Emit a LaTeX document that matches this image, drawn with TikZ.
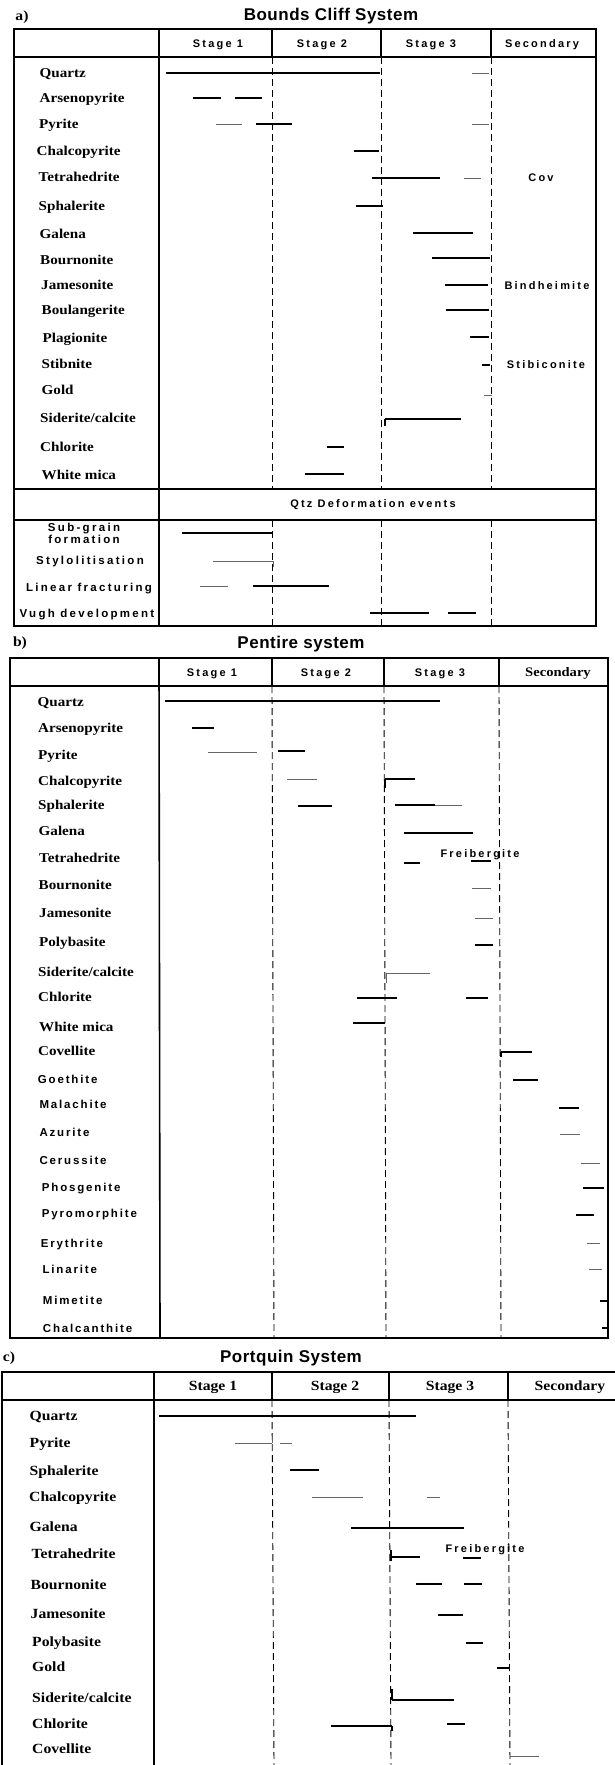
\documentclass[tikz,border=0pt]{standalone}
\usepackage{fontspec}
\newfontfamily\minrm[FakeStretch=1.12]{Liberation Serif Bold}
\newfontfamily\spacedsf[LetterSpace=20]{Liberation Sans Bold}
\newfontfamily\widesf[LetterSpace=16]{Liberation Sans Bold}
\newfontfamily\titlesf[LetterSpace=3]{Liberation Sans Bold}
\usetikzlibrary{positioning}

\begin{document}
\begin{tikzpicture}[x=1pt, y=-1pt,
  mineral/.style={anchor=west, inner sep=0pt, text height=9pt, text depth=0pt, font=\minrm\fontsize{13.5}{13.5}\selectfont},
  sansmineral/.style={anchor=west, inner sep=0pt, text height=8.5pt, text depth=0pt, font=\widesf\fontsize{11.5}{11.5}\selectfont},
  spacedlab/.style={inner sep=0pt, text height=8pt, text depth=0pt, font=\spacedsf\fontsize{11}{11}\selectfont},
  deformlab/.style={spacedlab, font=\spacedsf\fontsize{11.5}{11.5}\selectfont},
  serifhead/.style={inner sep=0pt, text height=9pt, text depth=0pt, font=\minrm\fontsize{14}{14}\selectfont},
  title/.style={inner sep=0pt, font=\titlesf\fontsize{17}{17}\selectfont},
  panel/.style={inner sep=0pt, font=\minrm\fontsize{14}{14}\selectfont},
  frame/.style={line width=1.6pt},
  divider/.style={line width=1.1pt},
  stagesep/.style={line width=0.9pt, dash pattern=on 7pt off 4pt},
  bar/.style={line width=1.1pt},
  heavybar/.style={line width=2.2pt},
  lightbar/.style={line width=0.8pt, black!60}]
\useasboundingbox (0,0) rectangle (615,1765);

% ---------------- a) Bounds Cliff System ----------------
\node[panel] (alabel) at (22,17) {a)};
\node[title] (atitle) at (331,16) {Bounds Cliff System};
\draw[frame] (14,29) rectangle (596,626);
\draw[frame] (14,57) -- (596,57);
\draw[frame] (14,489) -- (596,489);
\draw[frame] (14,520) -- (596,520);
\draw[frame] (159,29) -- (159,626);
\foreach \x in {272,381,491} {
  \draw[divider] (\x,29) -- (\x,57);
  \draw[stagesep] (\x,57) -- (\x,489);
  \draw[stagesep] (\x,520) -- (\x,626);
}
\node[spacedlab] (ahead1) at (218,43) {Stage 1};
\node[spacedlab] (ahead2) at (322,43) {Stage 2};
\node[spacedlab] (ahead3) at (431,43) {Stage 3};
\node[spacedlab] (ahead4) at (542,43) {Secondary};

\foreach \x/\y/\txt [count=\i] in {39.5/73/Quartz, 39.5/98/Arsenopyrite, 39/124/Pyrite,
    36.5/151/Chalcopyrite, 38.5/177/Tetrahedrite, 38.5/206/Sphalerite, 39.5/234/Galena,
    40/260/Bournonite, 41/285/Jamesonite, 41.5/310/Boulangerite, 42.5/338/Plagionite,
    41.5/364/Stibnite, 41.5/390/Gold, 40/418/{Siderite/calcite}, 40/447/Chlorite,
    41.5/475/White mica}
  \node[mineral] (a\i) at (\x,\y) {\txt};

\node[spacedlab] (acov) at (541,177) {Cov};
\node[spacedlab] (abind) at (547,285) {Bindheimite};
\node[spacedlab] (astib) at (546,364) {Stibiconite};

\node[spacedlab] (adeform) at (373,503) {Qtz Deformation events};
\node[deformlab, text height=7pt] (asub) at (84,528) {Sub-grain};
\node[deformlab, text height=7pt] (aform) at (84,539.5) {formation};
\node[deformlab] (astylo) at (90,560) {Stylolitisation};
\node[deformlab] (alinear) at (89,587) {Linear fracturing};
\node[deformlab] (avugh) at (87,613) {Vugh development};

% bars
\foreach \xa/\xb/\y in {166/380/73, 193/221/98, 235/262/98, 256/292/124,
    354/379/151, 356/383/206, 413/473/233, 470/489/337, 482/490/365,
    327/344/447, 305/344/474, 182/272/533, 253/329/586, 370/429/613, 448/476/613}
  \draw[bar] (\xa,\y) -- (\xb,\y);
\foreach \xa/\xb/\y in {372/440/178, 432/490/258, 445/488/285, 446/489/310, 385/461/419}
  \draw[heavybar] (\xa,\y) -- (\xb,\y);
\foreach \xa/\xb/\y in {472/489/73, 216/242/124, 472/489/124, 464/481/178,
    484/492/395, 213/273/561, 200/228/586}
  \draw[lightbar] (\xa,\y) -- (\xb,\y);
\draw[bar] (385,419) -- (385,426);
\draw[lightbar] (273,561) -- (273,567);

% ---------------- b) Pentire system ----------------
\node[panel] (blabel) at (20,643) {b)};
\node[title] (btitle) at (301,644) {Pentire system};
\draw[frame] (10,658) rectangle (608,1338);
\draw[frame] (10,686) -- (608,686);
\draw[frame] (159,658) -- (160,1338);
\foreach \x in {272,384,499} {
  \draw[divider] (\x,658) -- (\x,686);
  \draw[stagesep] (\x,686) -- (\x+2,1338);
}
\node[spacedlab] (bhead1) at (212,672) {Stage 1};
\node[spacedlab] (bhead2) at (326,672) {Stage 2};
\node[spacedlab] (bhead3) at (440,672) {Stage 3};
\node[serifhead, font=\minrm\fontsize{13}{13}\selectfont] (bhead4) at (558,672) {Secondary};

\foreach \x/\y/\txt [count=\i] in {37.5/702/Quartz, 38/728/Arsenopyrite, 38/755/Pyrite,
    38/781/Chalcopyrite, 38/805/Sphalerite, 38.5/831/Galena, 39/858/Tetrahedrite,
    38.5/885/Bournonite, 39/913/Jamesonite, 39/942/Polybasite, 38/972/{Siderite/calcite},
    38/997/Chlorite, 39/1027/White mica, 38/1051/Covellite}
  \node[mineral] (b\i) at (\x,\y) {\txt};
\foreach \x/\y/\txt [count=\i] in {37.7/1079/Goethite, 39.3/1104/Malachite, 39.3/1132/Azurite,
    39.3/1160/Cerussite, 41.7/1187/Phosgenite, 41.7/1213/Pyromorphite, 40.7/1243/Erythrite,
    42.3/1269/Linarite, 42.7/1300/Mimetite, 42.7/1328/Chalcanthite}
  \node[sansmineral] (bs\i) at (\x,\y) {\txt};
\node[spacedlab] (bfreib) at (480,853) {Freibergite};

% bars
\foreach \xa/\xb/\y in {165/440/701, 192/214/728, 278/305/751, 385/415/779, 298/332/806,
    404/420/863, 357/397/998, 466/488/998, 353/385/1023, 501/532/1052, 513/538/1080,
    559/579/1108, 583/604/1188, 576/594/1215, 600/608/1301, 602/608/1328}
  \draw[bar] (\xa,\y) -- (\xb,\y);
\foreach \xa/\xb/\y in {395/435/805, 404/473/833, 471/491/861, 475/493/945}
  \draw[heavybar] (\xa,\y) -- (\xb,\y);
\foreach \xa/\xb/\y in {208/257/752, 287/317/779, 435/462/805, 472/491/888, 475/493/918,
    386/430/973, 560/580/1134, 581/600/1163, 587/600/1243, 589/602/1269}
  \draw[lightbar] (\xa,\y) -- (\xb,\y);
\draw[bar] (385,779) -- (385,788);
\draw[lightbar] (386,973) -- (386,983);
\draw[bar] (501,1052) -- (501,1057);

% ---------------- c) Portquin System ----------------
\node[panel] (clabel) at (9,1358) {c)};
\node[title] (ctitle) at (291,1358) {Portquin System};
\draw[frame] (615,1372) -- (2,1372) -- (2,1765);
\draw[frame] (2,1400) -- (615,1400);
\draw[frame] (154,1372) -- (154,1765);
\foreach \x in {272,389,508} {
  \draw[divider] (\x,1372) -- (\x,1400);
  \draw[stagesep] (\x,1400) -- (\x+2,1765);
}
\node[serifhead] (chead1) at (213,1386) {Stage 1};
\node[serifhead] (chead2) at (335,1386) {Stage 2};
\node[serifhead] (chead3) at (450,1386) {Stage 3};
\node[serifhead] (chead4) at (570,1386) {Secondary};

\foreach \x/\y/\txt [count=\i] in {29.5/1416/Quartz, 29.5/1443/Pyrite, 29.5/1471/Sphalerite,
    29/1497/Chalcopyrite, 29.5/1527/Galena, 31.5/1554/Tetrahedrite, 30.5/1585/Bournonite,
    30.5/1614/Jamesonite, 32/1642/Polybasite, 32/1667/Gold, 32/1698/{Siderite/calcite},
    32/1724/Chlorite, 32/1749/Covellite}
  \node[mineral, font=\minrm\fontsize{14}{14}\selectfont] (c\i) at (\x,\y) {\txt};
\node[spacedlab] (cfreib) at (485,1548) {Freibergite};

% bars
\foreach \xa/\xb/\y in {159/416/1416, 290/319/1470, 391/420/1557, 416/442/1584,
    438/463/1615, 466/483/1643, 497/509/1668, 331/392/1726, 447/465/1724}
  \draw[bar] (\xa,\y) -- (\xb,\y);
\foreach \xa/\xb/\y in {351/464/1528, 463/481/1558, 464/482/1584, 392/454/1700}
  \draw[heavybar] (\xa,\y) -- (\xb,\y);
\foreach \xa/\xb/\y in {235/272/1443, 280/292/1443, 312/363/1497, 427/440/1497, 510/539/1756}
  \draw[lightbar] (\xa,\y) -- (\xb,\y);
\draw[lightbar] (272,1437) -- (272,1443);
\draw[bar] (391,1550) -- (391,1561);
\draw[bar] (392,1689) -- (392,1700);
\draw[bar] (392,1726) -- (392,1731);

\end{tikzpicture}
\end{document}
